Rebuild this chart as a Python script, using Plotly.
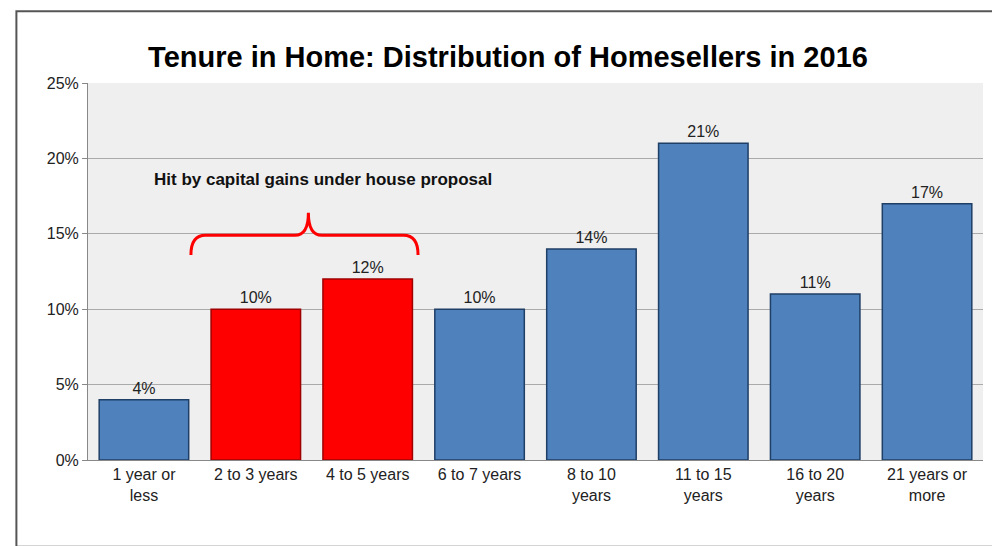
import plotly.graph_objects as go

categories = ["1 year or<br>less", "2 to 3 years", "4 to 5 years", "6 to 7 years",
              "8 to 10<br>years", "11 to 15<br>years", "16 to 20<br>years", "21 years or<br>more"]
shares = [0.04, 0.10, 0.12, 0.10, 0.14, 0.21, 0.11, 0.17]
hit = [False, True, True, False, False, False, False, False]

colors = ["#ff0000" if h else "#4f81bd" for h in hit]
edges = ["#a00000" if h else "#1f3f66" for h in hit]

fig = go.Figure(go.Bar(
    x=list(range(len(categories))), y=shares,
    marker=dict(color=colors, line=dict(color=edges, width=1.5)),
    width=0.8,
    text=[f"{v:.0%}" for v in shares], textposition="outside",
    textfont=dict(size=16, color="#222"), cliponaxis=False,
))

# brace over the red bars
fig.add_shape(type="path", xref="x", yref="y",
              path="M 0.42 0.136 Q 0.42 0.149 0.55 0.149 L 1.35 0.149 Q 1.47 0.149 1.47 0.164 "
                   "Q 1.47 0.149 1.59 0.149 L 2.32 0.149 Q 2.45 0.149 2.45 0.136",
              line=dict(color="#ff0000", width=3))
fig.add_annotation(x=1.6, y=0.186, xref="x", yref="y", showarrow=False,
                   text="<b>Hit by capital gains under house proposal</b>",
                   font=dict(size=17, color="#111"))

fig.update_layout(
    width=1000, height=546,
    title=dict(text="<b>Tenure in Home: Distribution of Homesellers in 2016</b>",
               x=0.5, xanchor="center", y=0.93, font=dict(size=29, color="black")),
    font=dict(family="Liberation Sans, Arial", size=16, color="#222"),
    paper_bgcolor="white", plot_bgcolor="#efefef",
    margin=dict(l=80, r=25, t=75, b=94),
    showlegend=False,
)
fig.update_xaxes(tickvals=list(range(len(categories))), ticktext=categories,
                 range=[-0.5, 7.5], showline=True, linecolor="#888",
                 ticks="outside", ticklen=0)
fig.update_yaxes(range=[0, 0.25], dtick=0.05, tickformat=".0%",
                 showgrid=True, gridcolor="#aaaaaa", showline=True, linecolor="#888",
                 ticks="outside", ticklen=5, tickcolor="#888", zeroline=False)
fig.add_shape(type="rect", xref="paper", yref="paper", x0=-0.08, x1=1.025, y0=-0.23, y1=1.19,
              line=dict(color="#555", width=2))
fig.write_html("out.html")
